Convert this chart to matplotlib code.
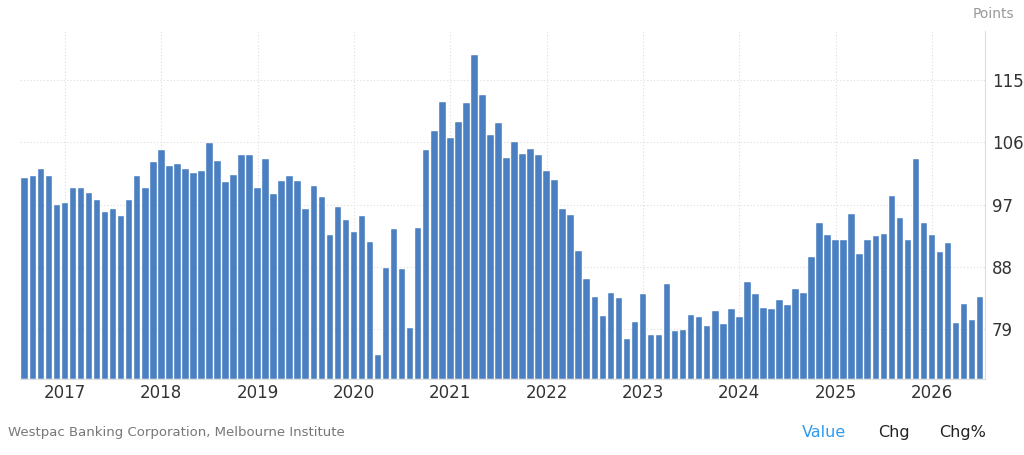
import matplotlib
matplotlib.use("Agg")
import matplotlib.pyplot as plt
import numpy as np

values = [100.8,101.1,102.1,101.1,97.0,97.2,99.4,99.4,98.7,97.7,96.0,96.3,95.3,97.7,101.1,99.4,
          103.1,104.9,102.6,102.8,102.1,101.6,101.9,105.9,103.3,100.3,101.3,104.2,104.2,99.4,103.6,
          98.6,100.4,101.1,100.4,96.3,99.7,98.1,92.6,96.7,94.8,93.1,95.4,91.6,75.3,87.9,93.5,87.7,
          79.2,93.6,104.9,107.6,111.8,106.7,108.9,111.7,118.6,112.8,107.0,108.8,103.8,106.0,104.3,
          105.0,104.1,101.9,100.6,96.3,95.5,90.3,86.2,83.6,80.9,84.3,83.5,77.6,80.1,84.1,78.2,78.2,
          85.5,78.7,78.9,81.1,80.7,79.4,81.7,79.7,81.9,80.7,85.8,84.1,82.0,81.9,83.2,82.5,84.8,84.3,
          89.5,94.3,92.6,91.9,91.9,95.7,89.9,91.9,92.4,92.8,98.2,95.1,91.9,103.6,94.3,92.6,90.2,91.4,
          79.9,82.7,80.4,83.6]
years = ["2017","2018","2019","2020","2021","2022","2023","2024","2025","2026"]
yticks = [79, 88, 97, 106, 115]

fig = plt.figure(figsize=(10.24, 4.55), dpi=100)
ax = fig.add_axes([0.0195, 0.167, 0.9424, 0.765])
x = np.arange(len(values))
ymin = 71.8
ax.bar(x, np.array(values) - ymin, bottom=ymin, width=0.82, color="#4a7fc1", edgecolor="white", linewidth=0.3, zorder=2)
ax.set_xlim(-0.6, len(values) - 0.4)
ax.set_ylim(ymin, 122.1)
ax.set_yticks(yticks)
ax.set_xticks([5 + 12 * k for k in range(len(years))])
ax.set_xticklabels(years)
ax.yaxis.tick_right()
ax.grid(True, color="#dddddd", linestyle=(0, (1, 2)), linewidth=0.8, zorder=0)
for s in ["top", "left"]:
    ax.spines[s].set_visible(False)
ax.spines["right"].set_color("#dddddd")
ax.spines["bottom"].set_color("#dddddd")
ax.tick_params(length=0, labelsize=12, colors="#333333")
ax.tick_params(axis="y", pad=5)
fig.text(0.99, 0.985, "Points", ha="right", va="top", fontsize=10, color="#999999")
fig.text(0.008, 0.05, "Westpac Banking Corporation, Melbourne Institute", ha="left", va="center", fontsize=9.5, color="#777777")
fig.text(0.805, 0.05, "Value", ha="center", va="center", fontsize=11.5, color="#2e9bf0")
fig.text(0.873, 0.05, "Chg", ha="center", va="center", fontsize=11.5, color="#222222")
fig.text(0.94, 0.05, "Chg%", ha="center", va="center", fontsize=11.5, color="#222222")
fig.savefig("out.png", dpi=100)
